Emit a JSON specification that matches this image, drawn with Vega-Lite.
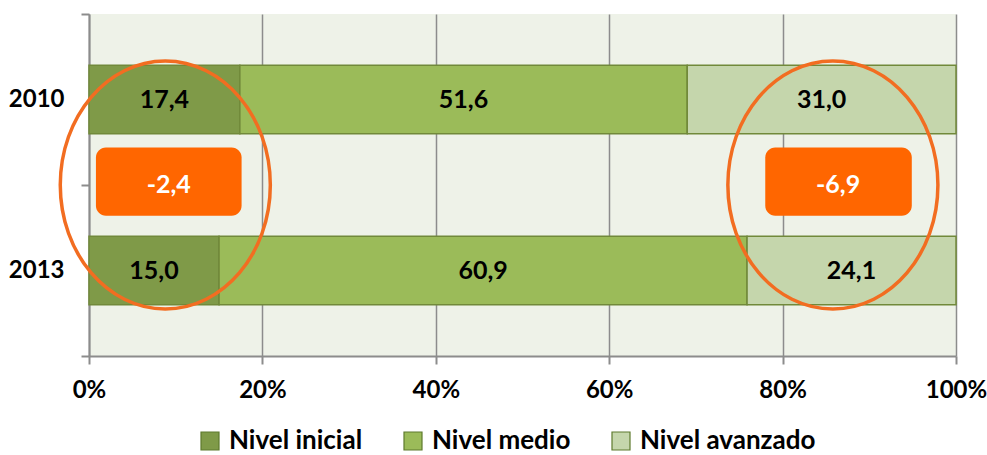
{
  "$schema": "https://vega.github.io/schema/vega-lite/v6.json",
  "width": 867,
  "height": 342,
  "autosize": {"type": "none"},
  "padding": {"left": 89, "top": 14, "right": 31, "bottom": 99},
  "background": "white",
  "config": {
    "view": {"fill": "#EEF2E8", "stroke": null},
    "font": "Lato",
    "locale": {"number": {"decimal": ",", "thousands": ".", "grouping": [3], "currency": ["", "€"], "minus": "-"}}
  },
  "datasets": {
    "niveles": [
      {"year": "2010", "nivel": "Nivel inicial", "k": 1, "value": 17.4},
      {"year": "2010", "nivel": "Nivel medio", "k": 2, "value": 51.6},
      {"year": "2010", "nivel": "Nivel avanzado", "k": 3, "value": 31.0},
      {"year": "2013", "nivel": "Nivel inicial", "k": 1, "value": 15.0},
      {"year": "2013", "nivel": "Nivel medio", "k": 2, "value": 60.9},
      {"year": "2013", "nivel": "Nivel avanzado", "k": 3, "value": 24.1}
    ],
    "cambios": [
      {"nivel": "Nivel inicial", "cambio": -2.4, "centro": 9.2, "desde": 0.8, "hasta": 17.6, "elipse": 8.8},
      {"nivel": "Nivel avanzado", "cambio": -6.9, "centro": 86.4, "desde": 78.0, "hasta": 94.9, "elipse": 85.8}
    ]
  },
  "layer": [
    {
      "data": {"name": "niveles"},
      "layer": [
        {
          "mark": {"type": "bar", "stroke": "#71893A", "strokeWidth": 1.5},
          "encoding": {
            "y": {
              "field": "year", "type": "nominal",
              "scale": {"paddingInner": 0.6, "paddingOuter": 0.3},
              "axis": {"title": null, "ticks": false, "domain": false, "labelPadding": 25, "labelFontSize": 24, "labelFontWeight": "bold", "labelColor": "black", "labelAngle": 0, "orient": "left"}
            },
            "x": {
              "field": "value", "type": "quantitative", "stack": "zero",
              "scale": {"domain": [0, 100], "nice": false},
              "axis": {"title": null, "values": [0, 20, 40, 60, 80, 100], "labelExpr": "datum.value + '%'", "grid": true, "gridColor": "#8C8C8C", "gridWidth": 1.5, "domainColor": "#8C8C8C", "domainWidth": 2, "tickColor": "#8C8C8C", "tickWidth": 2, "tickSize": 8, "labelFontSize": 24, "labelFontWeight": "bold", "labelColor": "black", "labelPadding": 14, "labelFlush": false}
            },
            "color": {
              "field": "nivel", "type": "nominal",
              "scale": {"domain": ["Nivel inicial", "Nivel medio", "Nivel avanzado"], "range": ["#7F9A48", "#9BBB59", "#C5D6AC"]},
              "legend": {"orient": "none", "legendX": 108, "legendY": 414, "direction": "horizontal", "title": null, "symbolType": "square", "symbolSize": 324, "symbolStrokeColor": "#5E7A2E", "symbolStrokeWidth": 1.2, "symbolOpacity": 1, "labelFontSize": 26, "labelFontWeight": "bold", "labelColor": "black", "columnPadding": 37, "labelOffset": 6, "labelLimit": 400}
            },
            "order": {"field": "k"}
          }
        },
        {
          "mark": {"type": "text", "fontSize": 25, "fontWeight": "bold", "color": "black"},
          "encoding": {
            "y": {"field": "year", "type": "nominal"},
            "x": {"field": "value", "type": "quantitative", "stack": "zero", "bandPosition": 0.5},
            "detail": {"field": "nivel"},
            "order": {"field": "k"},
            "text": {"field": "value", "type": "quantitative", "format": ".1f"}
          }
        }
      ]
    },
    {
      "data": {"name": "cambios"},
      "layer": [
        {
          "mark": {"type": "rect", "cornerRadius": 10, "color": "#FF6600"},
          "encoding": {
            "x": {"field": "desde", "type": "quantitative"},
            "x2": {"field": "hasta"},
            "y": {"datum": 0.82, "type": "quantitative", "scale": {"domain": [0, 2], "nice": false},
              "axis": {"orient": "left", "values": [0, 1, 2], "labels": false, "grid": false, "title": null, "domainColor": "#8C8C8C", "domainWidth": 2, "tickColor": "#8C8C8C", "tickWidth": 2, "tickSize": 8}},
            "y2": {"datum": 1.22}
          }
        },
        {
          "mark": {"type": "text", "fontSize": 25, "fontWeight": "bold", "color": "white"},
          "encoding": {
            "x": {"field": "centro", "type": "quantitative"},
            "y": {"datum": 1.0, "type": "quantitative"},
            "text": {"field": "cambio", "type": "quantitative", "format": ".1f"}
          }
        },
        {
          "mark": {"type": "point", "filled": false, "stroke": "#F26D21", "strokeWidth": 3.5, "opacity": 1, "size": 61504,
            "shape": "M -0.847 0 A 0.847 1 0 1 0 0.847 0 A 0.847 1 0 1 0 -0.847 0 Z"},
          "encoding": {
            "x": {"field": "elipse", "type": "quantitative"},
            "y": {"datum": 1.0, "type": "quantitative"}
          }
        }
      ]
    }
  ],
  "resolve": {"scale": {"y": "independent"}, "axis": {"y": "independent"}}
}
